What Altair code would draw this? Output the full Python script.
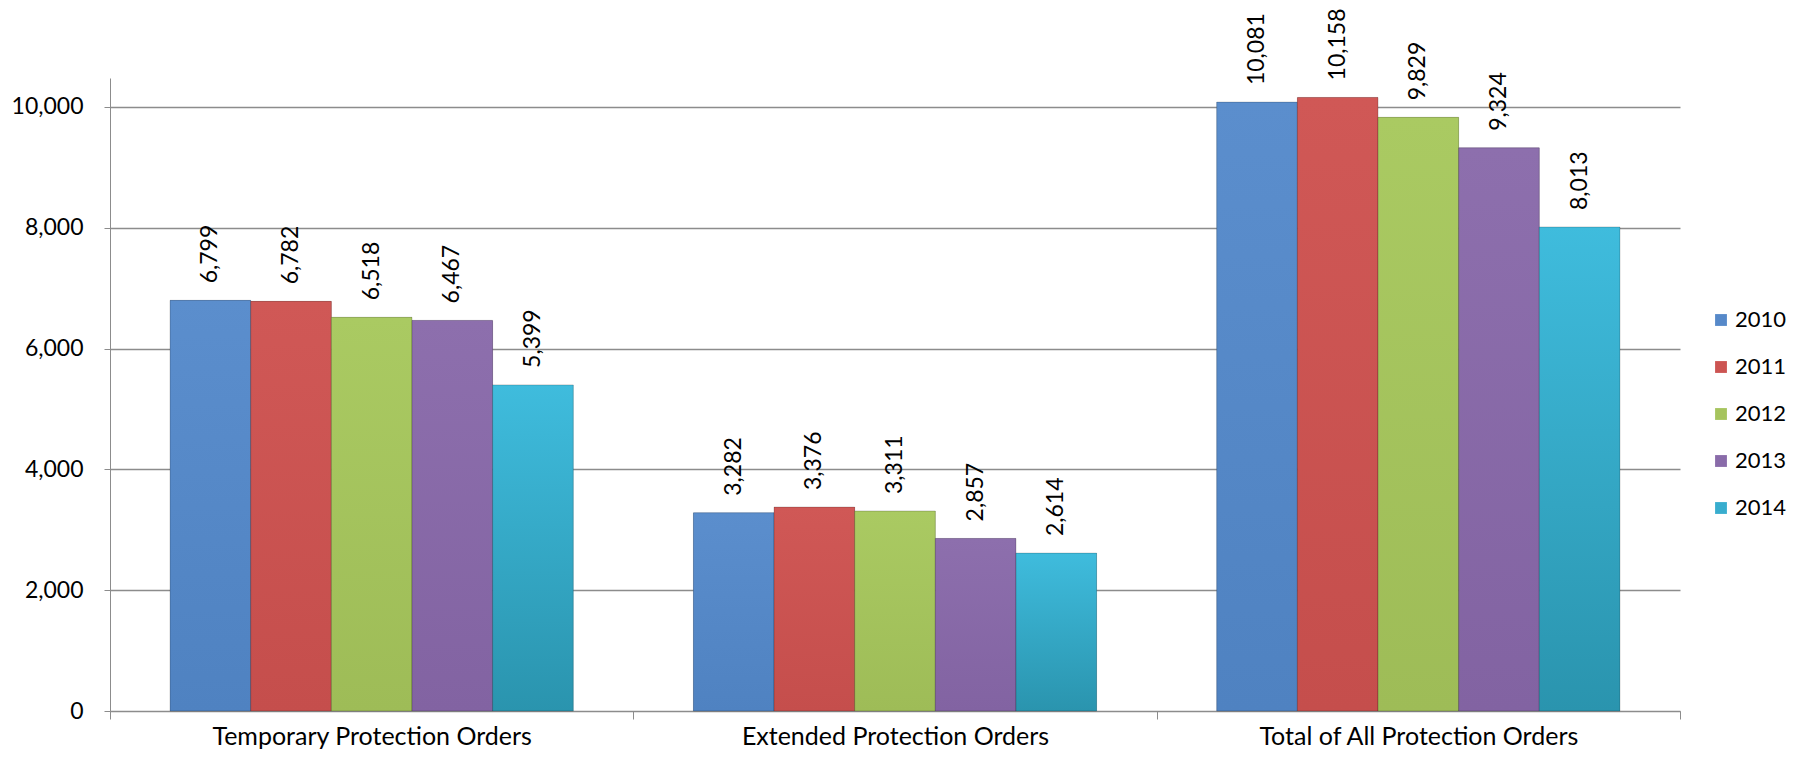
import altair as alt
import pandas as pd

categories = ["Temporary Protection Orders", "Extended Protection Orders", "Total of All Protection Orders"]
years = ["2010", "2011", "2012", "2013", "2014"]
temporary = [6799, 6782, 6518, 6467, 5399]
extended = [3282, 3376, 3311, 2857, 2614]
total = [10081, 10158, 9829, 9324, 8013]
colors = ["#5689C9", "#CC5452", "#A6C45E", "#896BA9", "#38ADCE"]
top_colors = ["#5B8ECD", "#D05856", "#AACA62", "#8D6FAD", "#3FBCDD"]
bottom_colors = ["#4F82C1", "#C54E4C", "#9EBC57", "#8263A2", "#2A94AE"]

rows = []
for cat, vals in zip(categories, [temporary, extended, total]):
    for yr, v in zip(years, vals):
        rows.append({"category": cat, "year": yr, "value": v})
df = pd.DataFrame(rows)

FONT = "Lato"

x_enc = alt.X("category:N", sort=categories, title=None,
              scale=alt.Scale(paddingInner=0, paddingOuter=0),
              axis=alt.Axis(labelAngle=0, tickBand="extent", tickSize=8,
                            labelPadding=5, labelFontSize=25, labelFont=FONT,
                            labelColor="#000000", domainColor="#8C8C8C",
                            tickColor="#8C8C8C", grid=False, labelLimit=0))
xoff_enc = alt.XOffset("year:N", sort=years,
                       scale=alt.Scale(paddingInner=0, paddingOuter=0.745))
y_enc = alt.Y("value:Q", title=None,
              scale=alt.Scale(domain=[0, 10480], nice=False),
              axis=alt.Axis(values=[0, 2000, 4000, 6000, 8000, 10000], format=",.0f",
                            tickSize=6, labelPadding=21, labelFontSize=23,
                            labelFont=FONT, labelColor="#000000",
                            domainColor="#8C8C8C", tickColor="#8C8C8C",
                            gridColor="#8C8C8C", gridWidth=1.5))

base_bars = alt.Chart(df).mark_bar().encode(
    x=x_enc,
    xOffset=xoff_enc,
    y=y_enc,
    color=alt.Color("year:N", sort=years, title=None,
                    scale=alt.Scale(domain=years, range=colors),
                    legend=alt.Legend(orient="none", legendX=1600, legendY=231,
                                      symbolType="square", symbolSize=140,
                                      labelFontSize=22, labelFont=FONT,
                                      labelColor="#000000", rowPadding=25,
                                      labelOffset=3, padding=0,
                                      symbolStrokeWidth=0)),
)

layers = [base_bars]
for yr, tc, bc in zip(years, top_colors, bottom_colors):
    grad = alt.Gradient(gradient="linear", x1=0, x2=0, y1=0, y2=1,
                        stops=[alt.GradientStop(color=tc, offset=0),
                               alt.GradientStop(color=bc, offset=1)])
    layers.append(
        alt.Chart(df).transform_filter(alt.datum.year == yr).mark_bar(
            color=grad, stroke="#000000", strokeOpacity=0.2, strokeWidth=1
        ).encode(x=x_enc, xOffset=xoff_enc, y=y_enc)
    )

labels = alt.Chart(df).mark_text(angle=270, align="left", baseline="middle",
                                 dx=17, fontSize=23, font=FONT, color="#000000").encode(
    x=x_enc,
    xOffset=xoff_enc,
    y=y_enc,
    text=alt.Text("value:Q", format=","),
)
layers.append(labels)

chart = alt.layer(*layers).properties(
    width=1570, height=633,
    autosize=alt.AutoSizeParams(type="none"),
    padding={"left": 102, "top": 70, "right": 122, "bottom": 40},
).configure_view(stroke=None).configure_axisX(grid=False)

chart.save("out.html", embed_options={"renderer": "svg", "actions": False})
